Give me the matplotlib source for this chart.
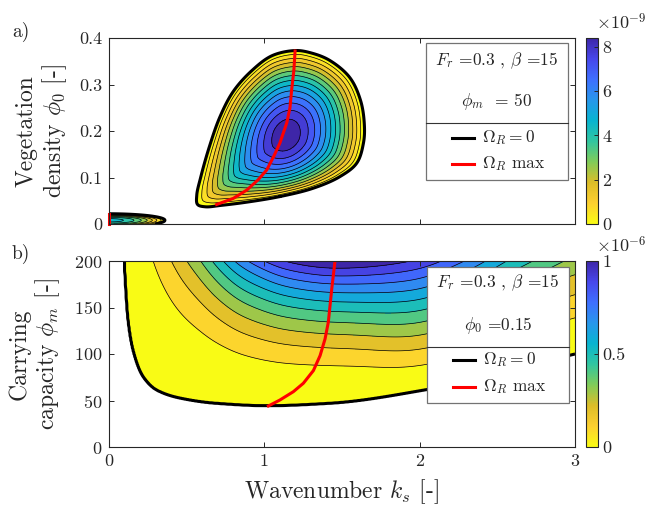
import numpy as np
import matplotlib
matplotlib.use('Agg')
import matplotlib.pyplot as plt
from matplotlib.colors import LinearSegmentedColormap, Normalize
from matplotlib.patches import Rectangle
from matplotlib.lines import Line2D
import matplotlib.cm as cm

plt.rcParams['font.family'] = 'cmr10'
plt.rcParams['mathtext.fontset'] = 'cm'
plt.rcParams['axes.unicode_minus'] = False
plt.rcParams['axes.formatter.use_mathtext'] = True

# ---- panel a) : growth rate in (k_s, phi_0) ----
egg_k = [1.20, 1.05, 0.92, 0.80, 0.715, 0.645, 0.59, 0.565, 0.57, 0.62, 0.72, 0.887,
         1.10, 1.315, 1.487, 1.595, 1.638, 1.644, 1.62, 1.55, 1.42, 1.30]
egg_phi = [0.373, 0.362, 0.33, 0.285, 0.231, 0.165, 0.10, 0.062, 0.042, 0.037, 0.040, 0.047,
           0.059, 0.077, 0.102, 0.131, 0.174, 0.213, 0.265, 0.315, 0.352, 0.368]
egg_center = (1.14, 0.19)
egg_core = (0.58, 0.44, 1.1)     # inner ellipse: semi-axes and tilt (rad), plot units
egg_peak = 8.4e-9
blob_k_end = 0.36
blob_phi = (0.008, 0.014)
blob_peak = 4.5e-9
max_a_k = [0.693, 0.80, 0.887, 0.96, 1.015, 1.06, 1.10, 1.144, 1.165, 1.176, 1.19, 1.198]
max_a_phi = [0.042, 0.055, 0.073, 0.095, 0.116, 0.145, 0.174, 0.217, 0.25, 0.289, 0.33, 0.372]
max_a0_k = [0.0, 0.0]
max_a0_phi = [0.0, 0.022]

# ---- panel b) : growth rate in (k_s, phi_m) ----
zero_k = [0.06, 0.097, 0.105, 0.12, 0.155, 0.22, 0.31, 0.46, 0.69, 1.02, 1.42, 2.02, 3.0]
zero_phim = [400, 200, 176, 140, 104, 75.6, 61, 52.5, 47, 44.4, 47, 61, 100]
top_k = [0.06, 0.098, 0.288, 0.405, 0.50, 0.60, 0.66, 0.74, 0.80, 0.89, 1.0, 1.12, 1.45,
         1.95, 2.3, 2.6, 3.0]
top_val = [0, 0, 0.091, 0.182, 0.273, 0.364, 0.455, 0.545, 0.636, 0.727, 0.818, 0.909, 1.0,
           0.909, 0.72, 0.52, 0.33]   # x 1e-6, value at phi_m = 200
pow_k = [0.06, 0.5, 1.0, 1.5, 2.0, 3.0]
pow_val = [2.0, 2.0, 1.9, 1.78, 1.38, 1.4]
max_b_k = [1.026, 1.10, 1.187, 1.251, 1.316, 1.359, 1.391, 1.412, 1.434, 1.455]
max_b_phim = [44.1, 50.5, 59.5, 68.5, 82.2, 98.3, 116.3, 134.3, 170, 200]

parula = [(0.2422, 0.1504, 0.6603), (0.2803, 0.2782, 0.9221), (0.2440, 0.4358, 0.9988),
          (0.1540, 0.5902, 0.9218), (0.0297, 0.7082, 0.8163), (0.1938, 0.7758, 0.6251),
          (0.5044, 0.7993, 0.3480), (0.8634, 0.7406, 0.1596), (0.9892, 0.8136, 0.1885),
          (0.9769, 0.9839, 0.0805)]
cmap = LinearSegmentedColormap.from_list('parula_r', parula[::-1])
dark = (0.15, 0.15, 0.15)


def pchip(x, y, xq):
    x = np.asarray(x, float)
    y = np.asarray(y, float)
    xq = np.asarray(xq, float)
    h = np.diff(x)
    d = np.diff(y) / h
    m = np.zeros_like(y)
    m[0], m[-1] = d[0], d[-1]
    for i in range(1, len(x) - 1):
        if d[i - 1] * d[i] > 0:
            w1 = 2 * h[i] + h[i - 1]
            w2 = h[i] + 2 * h[i - 1]
            m[i] = (w1 + w2) / (w1 / d[i - 1] + w2 / d[i])
    i = np.clip(np.searchsorted(x, xq) - 1, 0, len(h) - 1)
    t = (xq - x[i]) / h[i]
    return ((2 * t**3 - 3 * t**2 + 1) * y[i] + (t**3 - 2 * t**2 + t) * h[i] * m[i]
            + (-2 * t**3 + 3 * t**2) * y[i + 1] + (t**3 - t**2) * h[i] * m[i + 1])


def smooth(y, n):
    g = np.exp(-0.5 * (np.arange(-3 * n, 3 * n + 1) / n)**2)
    g /= g.sum()
    yp = np.concatenate([np.full(3 * n, y[0]), y, np.full(3 * n, y[-1])])
    return np.convolve(yp, g, mode='valid')


def closed_spline(pts, n=40):
    # centripetal Catmull-Rom through a closed ring of points
    out = []
    m = len(pts)
    for i in range(m):
        p0, p1, p2, p3 = pts[i - 1], pts[i], pts[(i + 1) % m], pts[(i + 2) % m]
        t0 = 0.0
        t1 = t0 + np.linalg.norm(p1 - p0)**0.5
        t2 = t1 + np.linalg.norm(p2 - p1)**0.5
        t3 = t2 + np.linalg.norm(p3 - p2)**0.5
        t = np.linspace(t1, t2, n, endpoint=False)[:, None]
        a1 = (t1 - t) / (t1 - t0) * p0 + (t - t0) / (t1 - t0) * p1
        a2 = (t2 - t) / (t2 - t1) * p1 + (t - t1) / (t2 - t1) * p2
        a3 = (t3 - t) / (t3 - t2) * p2 + (t - t2) / (t3 - t2) * p3
        b1 = (t2 - t) / (t2 - t0) * a1 + (t - t0) / (t2 - t0) * a2
        b2 = (t3 - t) / (t3 - t1) * a2 + (t - t1) / (t3 - t1) * a3
        out.append((t2 - t) / (t2 - t1) * b1 + (t - t1) / (t2 - t1) * b2)
    return np.vstack(out)


# field a)
ka = np.linspace(0, 3, 601)
pa = np.linspace(0, 0.4, 401)
KA, PA = np.meshgrid(ka, pa)
uc, vc = egg_center[0], 3 * egg_center[1]
ring = closed_spline(np.column_stack([egg_k, 3 * np.array(egg_phi)]))
th_b = np.arctan2(ring[:, 1] - vc, ring[:, 0] - uc)
r_b = np.hypot(ring[:, 1] - vc, ring[:, 0] - uc)
th = np.arctan2(3 * PA - vc, KA - uc)
rr = np.hypot(3 * PA - vc, KA - uc)
R = np.interp(th, th_b[np.argsort(th_b)], r_b[np.argsort(th_b)], period=2 * np.pi)
ea, eb, et = egg_core
Re = ea * eb / np.hypot(eb * np.cos(th - et), ea * np.sin(th - et))
gg = rr / (Re + (R - Re) * rr / R)
Z_egg = egg_peak * (1 - gg**1.6)
Z_blob = blob_peak * (1 - (KA / blob_k_end)**2 - ((PA - blob_phi[0]) / blob_phi[1])**2)
ZA = np.maximum(Z_egg, Z_blob)

# field b)
kb = np.linspace(0, 3, 601)
pb = np.linspace(0, 200, 401)
KB, PB = np.meshgrid(kb, pb)
kc = np.clip(kb, 0.06, 3)
bnd = pchip(zero_k, zero_phim, kc)
amp = np.maximum(smooth(pchip(top_k, top_val, kc), 12), 0.02) * 1e-6
pw = smooth(pchip(pow_k, pow_val, kc), 20)
span = np.maximum(200 - bnd, 1.0)
dd = PB - bnd[None, :]
ZB = amp * np.sign(dd) * (np.abs(dd) / span)**pw

W, H = 651, 505
fig = plt.figure(figsize=(W / 100, H / 100), dpi=100)
ax1 = fig.add_axes([109 / W, 1 - 224 / H, 466 / W, 186 / H])
ax2 = fig.add_axes([109 / W, 1 - 447 / H, 466 / W, 186 / H])
cax1 = fig.add_axes([586 / W, 1 - 224 / H, 12 / W, 186 / H])
cax2 = fig.add_axes([586 / W, 1 - 447 / H, 12 / W, 186 / H])


def draw(ax, K, P, Z, zmax, nb):
    lv = list(np.linspace(0, zmax, nb + 1)[:-1]) + [1.0]
    cols = [cmap(i / (nb - 1)) for i in range(nb)]
    ax.contourf(K, P, Z, levels=lv, colors=cols)
    ax.contour(K, P, Z, levels=lv[1:-1], colors='k', linewidths=0.5)
    ax.contour(K, P, Z, levels=[0], colors='k', linewidths=2.2)


draw(ax1, KA, PA, ZA, egg_peak, 14)
ax1.plot(max_a_k, max_a_phi, color='red', lw=2.2)
ax1.plot(max_a0_k, max_a0_phi, color='red', lw=2.2, clip_on=False)
draw(ax2, KB, PB, ZB, 1e-6, 11)
ax2.plot(max_b_k, max_b_phim, color='red', lw=2.2)

for ax in (ax1, ax2):
    ax.set_xlim(0, 3)
    ax.set_xticks([0, 1, 2, 3])
    ax.tick_params(direction='in', length=3.5, width=0.7, top=True, right=True,
                   labelsize=13, colors=dark, pad=5)
    for s in ax.spines.values():
        s.set_linewidth(0.8)
        s.set_color(dark)
ax1.set_ylim(0, 0.4)
ax1.set_yticks([0, 0.1, 0.2, 0.3, 0.4])
ax1.set_yticklabels(['0', '0.1', '0.2', '0.3', '0.4'])
ax1.set_xticklabels([])
ax2.set_ylim(0, 200)
ax2.set_yticks([0, 50, 100, 150, 200])
ax2.set_xticklabels(['0', '1', '2', '3'])

ax1.set_ylabel('Vegetation\ndensity $\\phi_0$ [-]', fontsize=17, color=dark,
               linespacing=1.15)
ax1.yaxis.set_label_coords(-0.085, 0.5)
ax2.set_ylabel('Carrying\ncapacity $\\phi_m$ [-]', fontsize=17, color=dark,
               linespacing=1.15)
ax2.yaxis.set_label_coords(-0.1, 0.5)
ax2.set_xlabel('Wavenumber $k_s$ [-]', fontsize=17, color=dark, labelpad=6)

for cax, vmax, ticks, sc, lab in ((cax1, egg_peak, [0, 2e-9, 4e-9, 6e-9, 8e-9], 1e-9, '-9'),
                                  (cax2, 1e-6, [0, 0.5e-6, 1e-6], 1e-6, '-6')):
    sm = cm.ScalarMappable(norm=Normalize(0, vmax), cmap=cmap)
    cb = fig.colorbar(sm, cax=cax, ticks=ticks)
    cb.ax.set_yticklabels([f'{t / sc:g}' for t in ticks])
    cb.ax.tick_params(direction='in', length=3, width=0.7, labelsize=13, colors=dark, pad=3)
    cb.outline.set_linewidth(0.8)
    cb.outline.set_edgecolor(dark)
    pos = cax.get_position()
    fig.text(pos.x0 + 0.015, pos.y1 + 0.012, '$\\times10^{' + lab + '}$', fontsize=13,
             color=dark, va='bottom', ha='left')

fig.text(12 / W, 1 - 32 / H, 'a)', fontsize=14, color=dark, va='center')
fig.text(12 / W, 1 - 254 / H, 'b)', fontsize=14, color=dark, va='center')


def fpx(x, y):
    return x / W, 1 - y / H


def legend_box(x0, x1, y0, y1, ydiv, t1, t2, ty1, ty2, ey1, ey2):
    fig.add_artist(Rectangle(fpx(x0, y1), (x1 - x0) / W, (y1 - y0) / H,
                             transform=fig.transFigure, facecolor='white',
                             edgecolor=(0.45, 0.45, 0.45), lw=0.9, zorder=5))
    fig.add_artist(Line2D([x0 / W, x1 / W], [1 - ydiv / H] * 2, transform=fig.transFigure,
                          color=(0.2, 0.2, 0.2), lw=0.8, zorder=6))
    xc = (x0 + x1) / 2 / W
    fig.text(xc, 1 - ty1 / H, t1, fontsize=12.5, color=dark, ha='center', va='center', zorder=7)
    fig.text(xc, 1 - ty2 / H, t2, fontsize=12.5, color=dark, ha='center', va='center', zorder=7)
    for ey, c, s in ((ey1, 'k', '$\\Omega_R = 0$'), (ey2, 'red', '$\\Omega_R$ max')):
        fig.add_artist(Line2D([(x0 + 26) / W, (x0 + 48) / W], [1 - ey / H] * 2,
                              transform=fig.transFigure, color=c, lw=2.2, zorder=7))
        fig.text((x0 + 56) / W, 1 - ey / H, s, fontsize=12.5, color=dark, ha='left',
                 va='center', zorder=7)


legend_box(426, 568, 43, 180, 123, '$F_r$ =0.3 , $\\beta$ =15', '$\\phi_m$  = 50',
           61, 102, 138, 164)
legend_box(427, 569, 267, 403, 347, '$F_r$ =0.3 , $\\beta$ =15', '$\\phi_0$ =0.15',
           283, 325, 360, 387)

fig.savefig('out.png', dpi=100)
